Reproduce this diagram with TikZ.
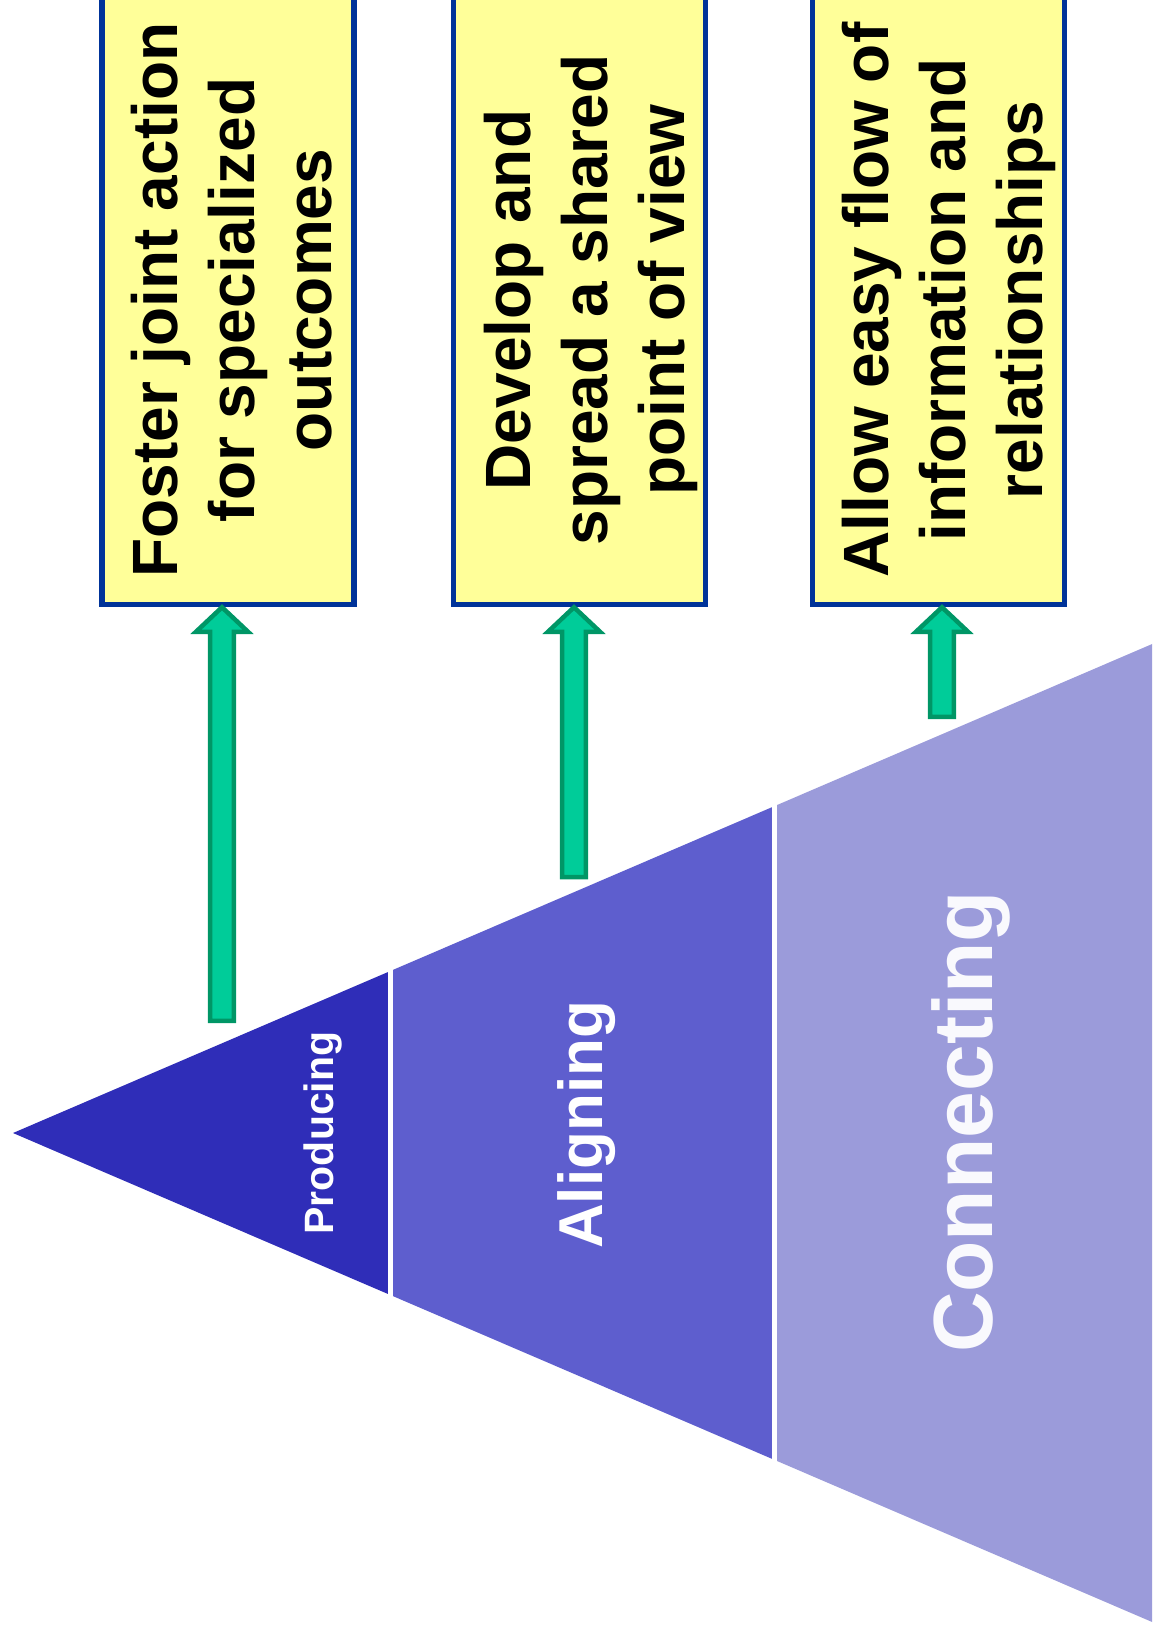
\documentclass[tikz,border=0pt]{standalone}
\usepackage{fontspec}
\setmainfont{Liberation Sans}
\usetikzlibrary{calc}
\definecolor{producing}{RGB}{47,45,184}
\definecolor{aligning}{RGB}{94,94,206}
\definecolor{connecting}{RGB}{155,155,218}
\definecolor{boxyellow}{RGB}{255,255,153}
\definecolor{boxblue}{RGB}{0,51,153}
\definecolor{arrowfill}{RGB}{0,204,153}
\definecolor{arrowedge}{RGB}{0,150,102}
\tikzset{
    goalbox/.style={draw=boxblue, fill=boxyellow, line width=5.5pt, minimum width=252pt, minimum height=634.5pt, inner sep=0pt},
    goaltext/.style={rotate=90, anchor=north, align=center, inner sep=0pt, font=\bfseries\fontsize{64}{77}\selectfont},
    layerlabel/.style={rotate=90, anchor=base, inner sep=0pt, text=white, font=\bfseries},
    blockarrow/.style={draw=arrowedge, fill=arrowfill, line width=4.5pt, line join=miter},
}
% fat arrow from a foot coordinate up to a tip coordinate
\newcommand{\blockarrow}[2]{%
    \draw[blockarrow] ($(#1)+(-11.8,0)$) -- ($(#2)+(-11.8,24.5)$) -- ($(#2)+(-26,24.5)$)
        -- (#2) -- ($(#2)+(26,24.5)$) -- ($(#2)+(11.8,24.5)$) -- ($(#1)+(11.8,0)$) -- cycle;}

\begin{document}
\begin{tikzpicture}[x=1pt, y=-1pt]
    \useasboundingbox (0,0) rectangle (1152,1638);
    \clip (0,0) rectangle (1152,1638);

    % layered triangle, apex on the left
    \coordinate (apex) at (13,1133);
    \begin{scope}
        \clip (apex) -- (1400,537.6) -- (1400,1728.4) -- cycle;
        \fill[producing]  (0,0)   rectangle (388,1700);
        \fill[aligning]   (393,0) rectangle (772,1700);
        \fill[connecting] (777,0) rectangle (1400,1700);
    \end{scope}

    \node[layerlabel, font=\bfseries\fontsize{41}{49}\selectfont] (produce) at (333,1133) {Producing};
    \node[layerlabel, font=\bfseries\fontsize{62}{74}\selectfont] (align)   at (602,1125) {Aligning};
    \node[layerlabel, font=\bfseries\fontsize{84}{100}\selectfont, text=white!94!connecting] (connect) at (992,1122) {Connecting};

    % goal boxes, running off the top edge
    \node[goalbox] (goalA) at (228,287.25)   {};
    \node[goalbox] (goalB) at (579.6,287.25) {};
    \node[goalbox] (goalC) at (938.4,287.25) {};

    \node[goaltext] (goalAtext) at (131.2,300) {Foster joint action\\for specialized\\outcomes};
    \node[goaltext] (goalBtext) at (484.2,300) {Develop and\\spread a shared\\point of view};
    \node[goaltext] (goalCtext) at (842.2,300) {Allow easy flow of\\information and\\relationships};

    % arrows from the layers up to the goals
    \coordinate (footA) at (222,1020.8);
    \coordinate (footB) at (574,877);
    \coordinate (footC) at (942,716.8);
    \coordinate (tipA) at (goalA.south -| footA);
    \coordinate (tipB) at (goalB.south -| footB);
    \coordinate (tipC) at (goalC.south -| footC);
    \blockarrow{footA}{tipA}
    \blockarrow{footB}{tipB}
    \blockarrow{footC}{tipC}
\end{tikzpicture}
\end{document}
